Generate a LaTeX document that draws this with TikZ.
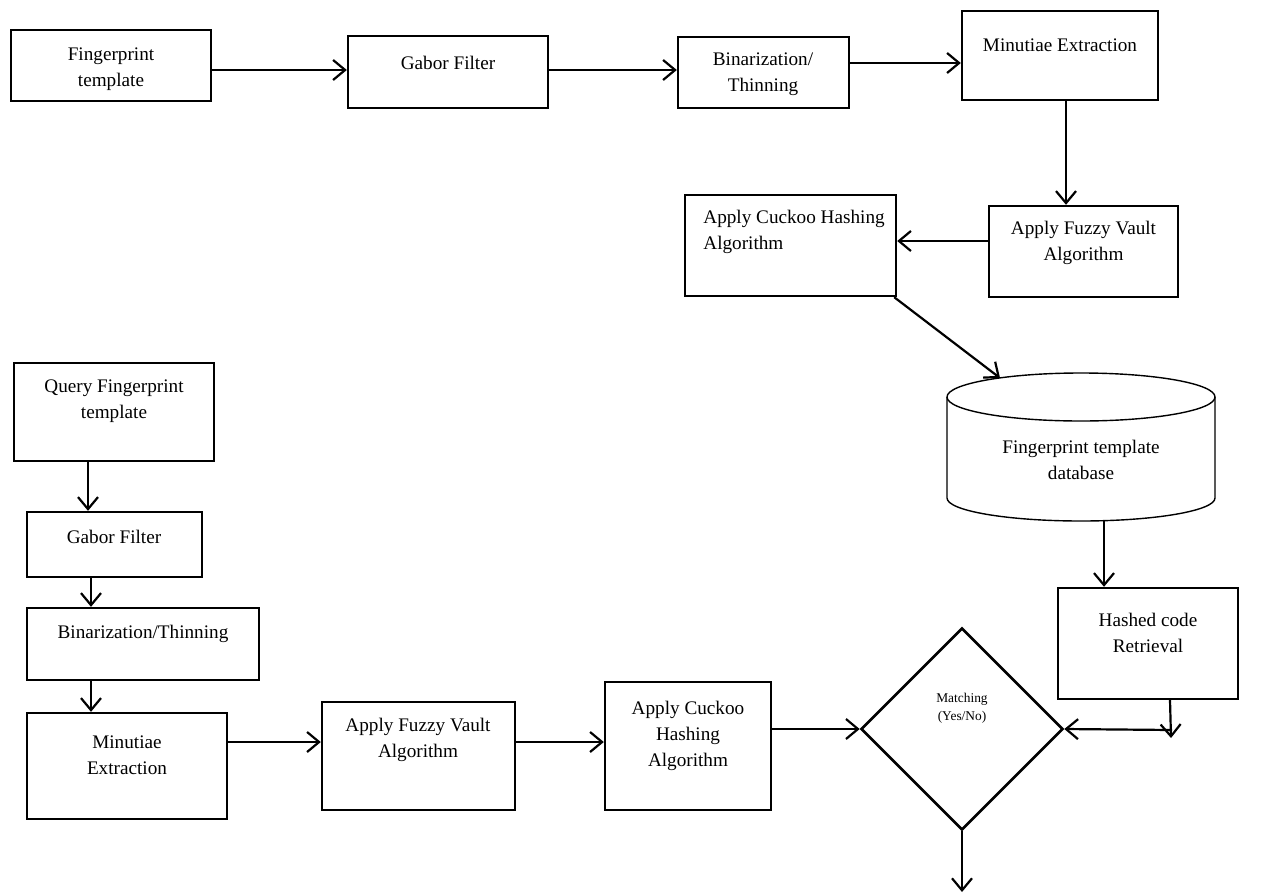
\documentclass[tikz,border=0pt]{standalone}
\usepackage{fontspec}
\setmainfont{Liberation Serif}
\usetikzlibrary{arrows.meta,fit,shapes.geometric}
\tikzset{
  box/.style={draw, line width=1.2pt, inner sep=0pt},
  txt/.style={align=center, inner sep=0pt, font=\fontsize{9.6}{13}\selectfont},
  small/.style={align=center, inner sep=0pt, font=\fontsize{6.7}{9}\selectfont},
  arr/.style={line width=1.1pt, -{Straight Barb[length=6pt,width=10pt,line width=1.1pt]}},
  dbline/.style={line width=0.7pt}
}
\begin{document}
\begin{tikzpicture}[x=0.5pt,y=-0.5pt]
\useasboundingbox (0,0) rectangle (1273,894);
% top row
\node[box, fit={(11,30) (211,101)}] (a) {};
\node[txt] (ta) at (111,69) {Fingerprint\\template};
\node[box, fit={(348,36) (548,108)}] (g1) {};
\node[txt] (tg1) at (448,63) {Gabor Filter};
\node[box, fit={(678,37) (849,108)}] (b1) {};
\node[txt] (tb1) at (763,74) {Binarization/\\Thinning};
\node[box, fit={(962,11) (1158,100)}] (m1) {};
\node[txt] (tm1) at (1060,45) {Minutiae Extraction};
\node[box, fit={(989,206) (1178,297)}] (f1) {};
\node[txt] (tf1) at (1083.5,243) {Apply Fuzzy Vault\\Algorithm};
\node[box, fit={(685,195) (896,296)}] (c1) {};
\node[txt, align=left, anchor=west] (tc1) at (703,232) {Apply Cuckoo Hashing\\Algorithm};
% database cylinder
\node[inner sep=0pt, fit={(947,373) (1215,521)}] (db) {};
\draw[dbline] (1081,397) ellipse [x radius=134, y radius=24];
\draw[dbline] (947,397) -- (947,498) arc[start angle=180, end angle=0, x radius=134, y radius=23] -- (1215,397);
\node[txt] (tdb) at (1081,460) {Fingerprint template\\database};
\coordinate (dbin) at (1000,378);
% hashed code
\node[box, fit={(1058,588) (1238,699)}] (h) {};
\node[txt] (th) at (1148,633) {Hashed code\\Retrieval};
\coordinate (hout) at (1171,738);
\coordinate (jn) at (1172,730);
% diamond
\node[draw, line width=1.3pt, diamond, aspect=1, minimum width=101pt, minimum height=101pt, inner sep=0pt] (dm) at (962,729) {};
\node[small] (tdm) at (962,708) {Matching\\(Yes/No)};
\coordinate (out) at (962,892);
% bottom chain
\node[box, fit={(14,363) (214,461)}] (q) {};
\node[txt] (tq) at (114,401) {Query Fingerprint\\template};
\node[box, fit={(27,512) (202,577)}] (g2) {};
\node[txt] (tg2) at (114,537) {Gabor Filter};
\node[box, fit={(27,608) (259,680)}] (b2) {};
\node[txt] (tb2) at (143,634) {Binarization/Thinning};
\node[box, fit={(27,713) (227,819)}] (m2) {};
\node[txt] (tm2) at (127,755) {Minutiae\\Extraction};
\node[box, fit={(322,702) (515,810)}] (f2) {};
\node[txt] (tf2) at (418,740) {Apply Fuzzy Vault\\Algorithm};
\node[box, fit={(605,682) (771,810)}] (c2) {};
\node[txt] (tc2) at (688,736) {Apply Cuckoo\\Hashing\\Algorithm};
% connectors top
\draw[arr] ([yshift=1pt]g1.west -| a.east) -- ([yshift=1pt]g1.west);
\draw[arr] ([yshift=1pt]g1.east) -- ([yshift=1pt]g1.east -| b1.west);
\draw[arr] ([yshift=4.75pt]b1.east) -- ([yshift=4.75pt]b1.east -| m1.west);
\draw[arr] ([xshift=3pt]m1.south) -- ([xshift=3pt]m1.south |- f1.north);
\draw[arr] ([yshift=5.25pt]f1.west) -- ([yshift=5.25pt]f1.west -| c1.east);
\draw[arr] ([xshift=-1.5pt]c1.south east) -- (dbin);
\draw[arr] ([xshift=11.5pt]db.south) -- ([xshift=11.5pt]db.south |- h.north);
\draw[arr] ([xshift=11pt]h.south) -- (hout);
\draw[arr] (jn) -- (dm.east);
\draw[arr] (dm.south) -- (out);
% connectors bottom
\draw[arr] ([xshift=-13pt]q.south) -- ([xshift=-13pt]q.south |- g2.north);
\draw[arr] ([xshift=-11.75pt]g2.south) -- ([xshift=-11.75pt]g2.south |- b2.north);
\draw[arr] ([xshift=-26pt]b2.south) -- ([xshift=-26pt]b2.south |- m2.north);
\draw[arr] ([yshift=7pt]f2.west -| m2.east) -- ([yshift=7pt]f2.west);
\draw[arr] ([yshift=7pt]f2.east) -- ([yshift=7pt]f2.east -| c2.west);
\draw[arr] (dm.west -| c2.east) -- (dm.west);
\end{tikzpicture}
\end{document}
